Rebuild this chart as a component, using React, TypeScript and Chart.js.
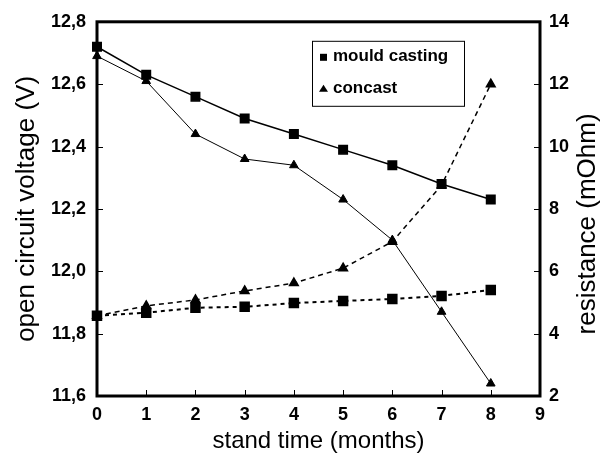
import React, { useEffect, useRef } from 'react';
import { Chart, registerables } from 'chart.js';
Chart.register(...registerables);

const months = [0, 1, 2, 3, 4, 5, 6, 7, 8];
const mouldVoltage = [12.72, 12.63, 12.56, 12.49, 12.44, 12.39, 12.34, 12.28, 12.23];
const concastVoltage = [12.69, 12.61, 12.44, 12.36, 12.34, 12.23, 12.1, 11.87, 11.64];
const mouldResistance = [4.57, 4.67, 4.83, 4.86, 4.98, 5.05, 5.11, 5.21, 5.4];
const concastResistance = [4.57, 4.89, 5.08, 5.37, 5.62, 6.1, 6.95, 8.76, 12.0];
const legendLabels = ['mould casting', 'concast'];
const xTitle = 'stand time (months)';
const yLeftTitle = 'open circuit voltage (V)';
const yRightTitle = 'resistance (mOhm)';

const FONT = "'Liberation Sans', Arial, sans-serif";

const toXY = (vals: number[]) => vals.map((v, i) => ({ x: months[i], y: v }));

const framePlugin = {
  id: 'frameTicks',
  beforeDatasetsDraw(chart: any) {
    const { ctx, chartArea, scales } = chart;
    const { left, right, top, bottom } = chartArea;
    ctx.save();
    ctx.strokeStyle = '#000';
    ctx.lineWidth = 1;
    const tl = 6;
    ctx.beginPath();
    scales.x.ticks.forEach((t: any) => {
      const p = Math.round(scales.x.getPixelForValue(t.value)) + 0.5;
      ctx.moveTo(p, bottom);
      ctx.lineTo(p, bottom - tl);
    });
    scales.y.ticks.forEach((t: any) => {
      const p = Math.round(scales.y.getPixelForValue(t.value)) + 0.5;
      ctx.moveTo(left, p);
      ctx.lineTo(left + tl, p);
    });
    scales.y1.ticks.forEach((t: any) => {
      const p = Math.round(scales.y1.getPixelForValue(t.value)) + 0.5;
      ctx.moveTo(right, p);
      ctx.lineTo(right - tl, p);
    });
    ctx.stroke();
    ctx.lineWidth = 3;
    ctx.strokeRect(left, top, right - left, bottom - top);
    ctx.restore();
  },
};

const rightTitlePlugin = {
  id: 'rightTitle',
  afterDraw(chart: any) {
    const { ctx, chartArea } = chart;
    ctx.save();
    ctx.translate(chart.width - 20, (chartArea.top + chartArea.bottom) / 2 + 15);
    ctx.rotate(-Math.PI / 2);
    ctx.fillStyle = '#000';
    ctx.font = `26px ${FONT}`;
    ctx.textAlign = 'center';
    ctx.textBaseline = 'middle';
    ctx.fillText(yRightTitle, 0, 0);
    ctx.restore();
  },
};

const legendPlugin = {
  id: 'boxLegend',
  afterDraw(chart: any) {
    const { ctx, chartArea } = chart;
    const bx = chartArea.left + 215;
    const by = chartArea.top + 19;
    const bw = 152;
    const bh = 65;
    ctx.save();
    ctx.fillStyle = '#fff';
    ctx.fillRect(bx, by, bw, bh);
    ctx.strokeStyle = '#000';
    ctx.lineWidth = 1;
    ctx.strokeRect(bx + 0.5, by + 0.5, bw, bh);
    ctx.fillStyle = '#000';
    ctx.font = `bold 17px ${FONT}`;
    ctx.textBaseline = 'middle';
    ctx.textAlign = 'left';
    const rows = [by + 16, by + 48];
    ctx.fillRect(bx + 8, rows[0] - 3, 7, 7);
    ctx.fillText(legendLabels[0], bx + 21, rows[0]);
    ctx.beginPath();
    ctx.moveTo(bx + 11.5, rows[1] - 4);
    ctx.lineTo(bx + 16, rows[1] + 3);
    ctx.lineTo(bx + 7, rows[1] + 3);
    ctx.closePath();
    ctx.fill();
    ctx.fillText(legendLabels[1], bx + 21, rows[1]);
    ctx.restore();
  },
};

export default function App() {
  const ref = useRef<HTMLCanvasElement>(null);
  useEffect(() => {
    document.body.style.margin = '0';
    const tickFont = { family: FONT, size: 18, weight: 'bold' as const };
    const chart = new Chart(ref.current!, {
      type: 'line',
      data: {
        datasets: [
          {
            label: legendLabels[0],
            data: toXY(mouldVoltage),
            yAxisID: 'y',
            borderColor: '#000',
            backgroundColor: '#000',
            borderWidth: 1.5,
            pointStyle: 'rect',
            pointRadius: 6,
            tension: 0,
            clip: false,
          },
          {
            label: legendLabels[1],
            data: toXY(concastVoltage),
            yAxisID: 'y',
            borderColor: '#000',
            backgroundColor: '#000',
            borderWidth: 1,
            pointStyle: 'triangle',
            pointRadius: 5,
            tension: 0,
            clip: false,
          },
          {
            label: legendLabels[0] + ' resistance',
            data: toXY(mouldResistance),
            yAxisID: 'y1',
            borderColor: '#000',
            backgroundColor: '#000',
            borderWidth: 2,
            borderDash: [4, 4],
            pointStyle: 'rect',
            pointRadius: 6,
            tension: 0,
            clip: false,
          },
          {
            label: legendLabels[1] + ' resistance',
            data: toXY(concastResistance),
            yAxisID: 'y1',
            borderColor: '#000',
            backgroundColor: '#000',
            borderWidth: 1.5,
            borderDash: [5, 4],
            pointStyle: 'triangle',
            pointRadius: 5,
            tension: 0,
            clip: false,
          },
        ],
      },
      options: {
        responsive: false,
        animation: false,
        layout: { padding: { top: 18, left: 0, right: 0, bottom: 0 } },
        plugins: { legend: { display: false }, tooltip: { enabled: false } },
        scales: {
          x: {
            type: 'linear',
            min: 0,
            max: 9,
            grid: { display: false, drawTicks: false },
            border: { display: false },
            ticks: { stepSize: 1, color: '#000', font: tickFont, padding: 8 },
            title: { display: true, text: xTitle, color: '#000', font: { family: FONT, size: 24 }, padding: { top: 0, bottom: 2 } },
            afterFit: (s: any) => { s.height = 62; },
          },
          y: {
            type: 'linear',
            position: 'left',
            min: 11.6,
            max: 12.8,
            grid: { display: false, drawTicks: false },
            border: { display: false },
            ticks: {
              stepSize: 0.2,
              color: '#000',
              font: tickFont,
              padding: 11,
              callback: (v: any) => Number(v).toFixed(1).replace('.', ','),
            },
            title: { display: true, text: yLeftTitle, color: '#000', font: { family: FONT, size: 26 }, padding: { top: 11, bottom: 0 } },
            afterFit: (s: any) => { s.width = 97; },
          },
          y1: {
            type: 'linear',
            position: 'right',
            min: 2,
            max: 14,
            grid: { display: false, drawTicks: false },
            border: { display: false },
            ticks: { stepSize: 2, color: '#000', font: tickFont, padding: 9 },
            title: { display: false, text: yRightTitle },
            afterFit: (s: any) => { s.width = 68; },
          },
        },
      } as any,
      plugins: [framePlugin, legendPlugin, rightTitlePlugin],
    });
    return () => chart.destroy();
  }, []);
  return (
    <div style={{ width: 608, height: 458 }}>
      <canvas ref={ref} width={608} height={458} />
    </div>
  );
}
